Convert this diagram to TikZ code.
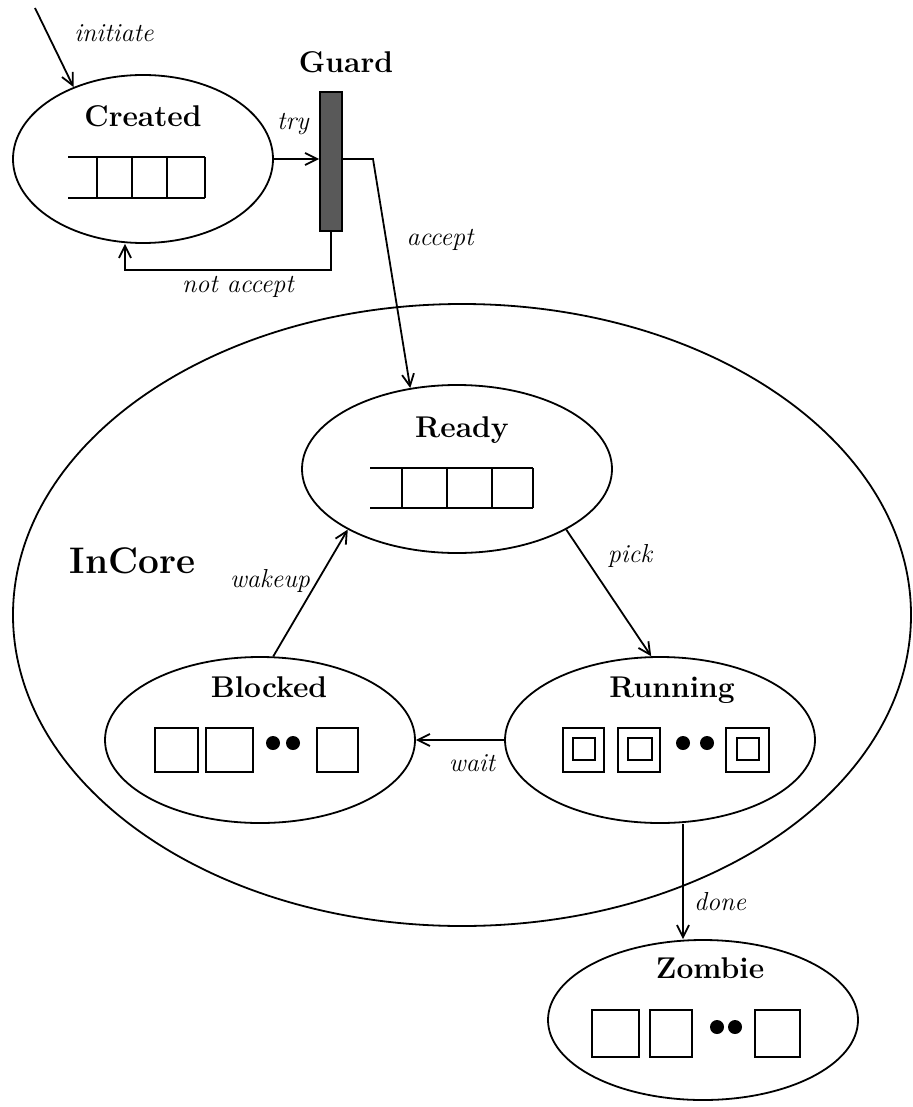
\documentclass[tikz,border=0pt]{standalone}
\usepackage{fontspec}
\usetikzlibrary{shapes.geometric, arrows.meta, positioning}

\begin{document}
\begin{tikzpicture}[
        x=0.5pt, y=-0.5pt,
        line width=0.9pt,
        >={Straight Barb[length=6pt, width=6pt]},
        proc/.style={ellipse, draw, inner sep=0pt},
        stname/.style={anchor=base, font=\fontsize{15}{18}\selectfont\bfseries},
        tlabel/.style={anchor=base, font=\fontsize{13}{16}\selectfont\itshape},
        guardbar/.style={rectangle, draw, fill=black!65, minimum width=11pt, minimum height=69.5pt, inner sep=0pt}
    ]
        \useasboundingbox (0,0) rectangle (912,1107);

        % the InCore region
        \node[proc, minimum width=449pt, minimum height=311pt] (incore) at (462,615) {};
        \node[anchor=base west, font=\fontsize{18.5}{22}\selectfont\bfseries] (incorename) at (62,573) {InCore};

        % Created with its queue
        \node[proc, minimum width=130pt, minimum height=84pt] (created) at (143,159) {};
        \node[stname] (createdname) at (143,127) {Created};
        \draw (68,157) -- (205,157) (68,198) -- (205,198);
        \foreach \x in {97,132,167,205} \draw (\x,157) -- (\x,198);

        % Guard
        \node[guardbar] (guard) at (331,161.5) {};
        \node[stname, above=5.5pt of guard, xshift=7.5pt] (guardname) {Guard};

        % Ready with its queue
        \node[proc, minimum width=155pt, minimum height=84pt] (ready) at (457,469) {};
        \node[stname] (readyname) at (462,437) {Ready};
        \draw (370,468) -- (533,468) (370,508) -- (533,508);
        \foreach \x in {402,447,492,533} \draw (\x,468) -- (\x,508);

        % Blocked
        \node[proc, minimum width=155pt, minimum height=83pt] (blocked) at (260,740) {};
        \node[stname] (blockedname) at (269,697) {Blocked};
        \draw (155,728) rectangle (198,772) (206,728) rectangle (253,772) (317,728) rectangle (358,772);
        \fill (273,743) circle[radius=3.5pt] (293,743) circle[radius=3.5pt];

        % Running
        \node[proc, minimum width=155pt, minimum height=83pt] (running) at (660,740) {};
        \node[stname] (runningname) at (672,697) {Running};
        \draw (563,728) rectangle (604,772) (618,728) rectangle (660,772) (726,728) rectangle (769,772);
        \draw (573,738) rectangle (595,760) (628,738) rectangle (652,760) (737,738) rectangle (759,760);
        \fill (683,743) circle[radius=3.5pt] (707,743) circle[radius=3.5pt];

        % Zombie
        \node[proc, minimum width=155pt, minimum height=80pt] (zombie) at (703,1020) {};
        \node[stname] (zombiename) at (710,978) {Zombie};
        \draw (592,1010) rectangle (639,1057) (650,1010) rectangle (692,1057) (755,1010) rectangle (800,1057);
        \fill (717,1027) circle[radius=3.5pt] (735,1027) circle[radius=3.5pt];

        % transitions
        \coordinate (initfrom) at (35,8);
        \coordinate (acceptbend) at (373,159);
        \coordinate (rejectx) at (125,0);
        \coordinate (donex) at (683,0);

        \draw[->] (initfrom) -- (created.134);
        \node[tlabel] (initiatelbl) at (114,42) {initiate};

        \draw[->] (created.east) -- (created.east -| guard.west);
        \node[tlabel] (trylbl) at (293,130) {try};

        \draw[->] (created.east -| guard.east) -- (acceptbend) -- (ready.120);
        \node[tlabel] (acceptlbl) at (440,245) {accept};

        \draw[->] (guard.south) -- ++(0,38) -| (created.south -| rejectx);
        \node[tlabel] (rejectlbl) at (238,292) {not accept};

        \draw[->] (blocked.81) -- (ready.209);
        \node[tlabel] (wakeuplbl) at (270,587) {wakeup};

        \draw[->] (ready.-29) -- (running.96);
        \node[tlabel] (picklbl) at (630,562) {pick};

        \draw[->] (running.west) -- (blocked.east);
        \node[tlabel] (waitlbl) at (472,771) {wait};

        \draw[->] (running.south -| donex) -- (zombie.north -| donex);
        \node[tlabel] (donelbl) at (720,910) {done};
    \end{tikzpicture}
\end{document}
